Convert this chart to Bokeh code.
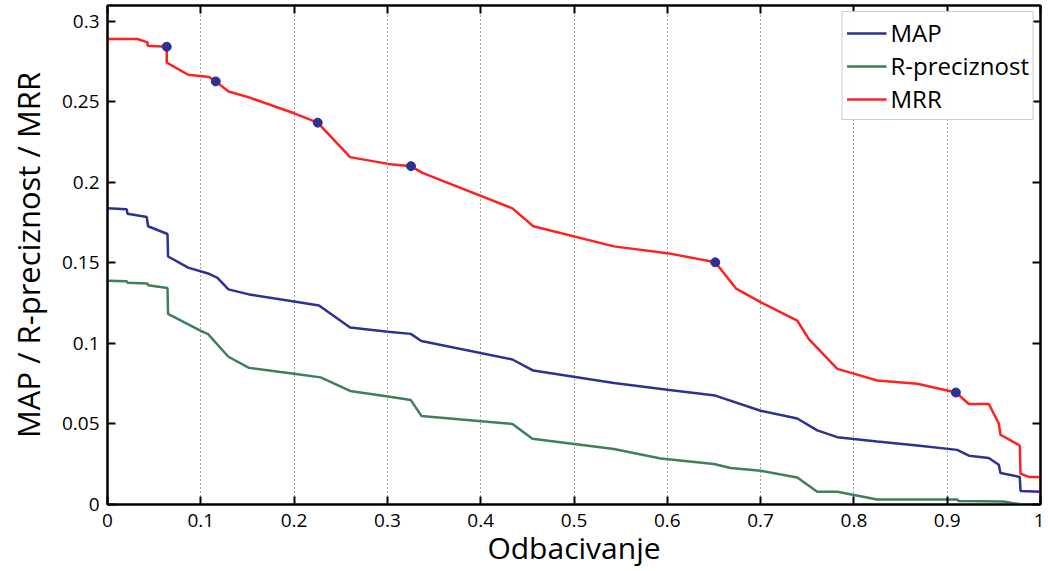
from bokeh.plotting import figure
from bokeh.models import LinearAxis, FixedTicker, Range1d, Legend, LegendItem
from bokeh.embed import file_html
from bokeh.resources import INLINE

# --- data ---
map_x = [0, 0.0207, 0.0214, 0.0421, 0.0435, 0.0643, 0.0649, 0.0864, 0.1078, 0.1179, 0.1296,
         0.1517, 0.2, 0.2267, 0.26, 0.3007, 0.325, 0.3364, 0.434, 0.4564, 0.5428, 0.6,
         0.6514, 0.70, 0.7393, 0.7607, 0.7822, 0.825, 0.8679, 0.9107, 0.9232, 0.9446,
         0.9553, 0.9571, 0.9778, 0.9786, 1.0]
map_y = [0.1838, 0.1832, 0.1805, 0.1784, 0.1727, 0.1679, 0.1539, 0.147, 0.1434, 0.1407, 0.1335,
         0.1304, 0.126, 0.1235, 0.1099, 0.1072, 0.1059, 0.1015, 0.09, 0.0831, 0.0754, 0.0712,
         0.0676, 0.0582, 0.0534, 0.046, 0.0418, 0.0391, 0.0366, 0.0339, 0.0303, 0.0289,
         0.0247, 0.0195, 0.0171, 0.0084, 0.0079]

rp_x = [0, 0.0207, 0.0214, 0.0429, 0.0435, 0.0643, 0.0649, 0.1, 0.1078, 0.1296, 0.1517,
        0.2, 0.2285, 0.26, 0.3007, 0.325, 0.3364, 0.434, 0.4554, 0.5428, 0.5929, 0.65,
        0.668, 0.70, 0.7393, 0.7607, 0.7822, 0.825, 0.9107, 0.9125, 0.96, 0.98, 1.0]
rp_y = [0.1388, 0.1386, 0.1376, 0.1371, 0.1361, 0.1344, 0.1183, 0.1078, 0.1057, 0.0917, 0.0848,
        0.0812, 0.0789, 0.0705, 0.067, 0.0649, 0.055, 0.05, 0.0408, 0.0345, 0.0286, 0.0251,
        0.0226, 0.0209, 0.0167, 0.0079, 0.0079, 0.0031, 0.0031, 0.0021, 0.0018, 0.0, 0.0]

mrr_x = [0, 0.032, 0.043, 0.043, 0.0635, 0.0635, 0.0864, 0.1089, 0.116, 0.1297, 0.1517,
         0.2, 0.2253, 0.26, 0.3007, 0.3253, 0.3375, 0.434, 0.4564, 0.5428, 0.6, 0.6514,
         0.6737, 0.70, 0.7393, 0.7517, 0.7822, 0.80, 0.825, 0.8679, 0.9093, 0.9232, 0.9446,
         0.9553, 0.9571, 0.9778, 0.9786, 0.9875, 1.0, 1.0]
mrr_y = [0.2889, 0.2889, 0.2868, 0.2847, 0.2841, 0.2742, 0.2667, 0.2653, 0.2626, 0.2563, 0.2527,
         0.2428, 0.237, 0.2156, 0.2114, 0.21, 0.2058, 0.1838, 0.1727, 0.1602, 0.156, 0.1503,
         0.134, 0.1256, 0.1141, 0.1026, 0.0842, 0.0812, 0.077, 0.0749, 0.0695, 0.0624, 0.0624,
         0.0503, 0.0433, 0.0366, 0.0192, 0.0171, 0.0171, 0.0]

marker_x = [0.0635, 0.116, 0.2253, 0.3253, 0.6514, 0.9093]
marker_y = [0.2841, 0.2626, 0.237, 0.21, 0.1503, 0.0695]

x_ticks = [0, 0.1, 0.2, 0.3, 0.4, 0.5, 0.6, 0.7, 0.8, 0.9, 1]
y_ticks = [0, 0.05, 0.1, 0.15, 0.2, 0.25, 0.3]
x_tick_labels = {0: "0", 0.1: "0.1", 0.2: "0.2", 0.3: "0.3", 0.4: "0.4", 0.5: "0.5",
                 0.6: "0.6", 0.7: "0.7", 0.8: "0.8", 0.9: "0.9", 1: "1"}
y_tick_labels = {0: "0", 0.05: "0.05", 0.1: "0.1", 0.15: "0.15", 0.2: "0.2", 0.25: "0.25", 0.3: "0.3"}

FONT = "Open Sans"
C_MAP = "#2e3192"
C_RP = "#3f7f5a"
C_MRR = "#ff2020"

p = figure(width=1044, height=570, output_backend="svg", toolbar_location=None,
           x_range=Range1d(0, 1), y_range=Range1d(0, 0.3097),
           min_border_left=107, min_border_right=4, min_border_top=5, min_border_bottom=60)
p.background_fill_color = "white"
p.border_fill_color = "white"
p.outline_line_color = "black"
p.outline_line_width = 2

for ax, ticks, labels in ((p.xaxis[0], x_ticks, x_tick_labels), (p.yaxis[0], y_ticks, y_tick_labels)):
    ax.ticker = FixedTicker(ticks=ticks)
    ax.major_label_overrides = labels
    ax.major_tick_in = 8
    ax.major_tick_out = 0
    ax.minor_tick_line_color = None
    ax.axis_line_width = 2
    ax.major_tick_line_width = 2
    ax.major_label_text_font = FONT
    ax.major_label_text_font_size = "19px"
    ax.major_label_text_color = "black"
    ax.axis_label_text_font = FONT
    ax.axis_label_text_font_style = "normal"
    ax.axis_label_text_color = "black"

p.xaxis.axis_label = "Odbacivanje"
p.yaxis.axis_label = "MAP / R-preciznost / MRR"
p.xaxis.axis_label_text_font_size = "30px"
p.yaxis.axis_label_text_font_size = "31px"
p.xaxis.major_label_standoff = 9
p.xaxis.axis_label_standoff = -3
p.yaxis.major_label_standoff = 8
p.yaxis.axis_label_standoff = 10

# MATLAB-like box ticks on top and right (no labels)
for loc, ticks in (("above", x_ticks), ("right", y_ticks)):
    ax = LinearAxis(ticker=FixedTicker(ticks=ticks), major_tick_in=8, major_tick_out=0,
                    minor_tick_line_color=None,
                    major_label_overrides={t: "" for t in ticks},
                    major_label_standoff=0, axis_line_width=2, major_tick_line_width=2)
    p.add_layout(ax, loc)

p.xgrid.ticker = FixedTicker(ticks=x_ticks[1:-1])
p.xgrid.grid_line_color = "#444444"
p.xgrid.grid_line_dash = "1 3"
p.xgrid.grid_line_width = 1
p.ygrid.grid_line_color = None

r_map = p.line(map_x, map_y, line_color=C_MAP, line_width=2.5)
r_rp = p.line(rp_x, rp_y, line_color=C_RP, line_width=2.5)
r_mrr = p.line(mrr_x, mrr_y, line_color=C_MRR, line_width=2.5)
p.scatter(marker_x, marker_y, size=9, color=C_MAP)

legend = Legend(items=[LegendItem(label="MAP", renderers=[r_map]),
                       LegendItem(label="R-preciznost", renderers=[r_rp]),
                       LegendItem(label="MRR", renderers=[r_mrr])],
                location="top_right")
legend.label_text_font = FONT
legend.label_text_font_size = "24px"
legend.label_text_color = "black"
legend.border_line_color = "#999999"
legend.border_line_width = 1
legend.glyph_width = 40
legend.glyph_height = 28
legend.label_height = 28
legend.spacing = 0
legend.padding = 4
legend.margin = 6
legend.label_standoff = 4
p.add_layout(legend)

open("out.html", "w").write(file_html(p, INLINE))
